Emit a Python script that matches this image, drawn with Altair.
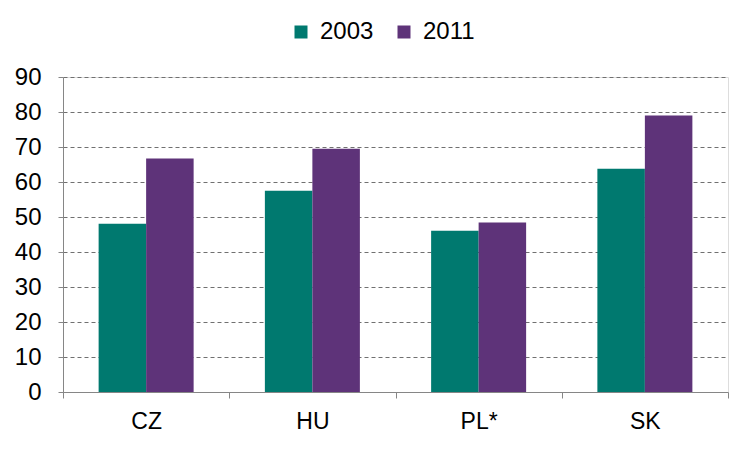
import altair as alt
import pandas as pd

countries = ["CZ", "HU", "PL*", "SK"]
years = ["2003", "2011"]
v2003 = [48.1, 57.5, 46.1, 63.8]
v2011 = [66.7, 69.5, 48.4, 79.0]
colors = ["#00796F", "#5E3379"]
y_ticks = [0, 10, 20, 30, 40, 50, 60, 70, 80, 90]

rows = []
for c, a, b in zip(countries, v2003, v2011):
    rows.append({"country": c, "year": years[0], "value": a})
    rows.append({"country": c, "year": years[1], "value": b})
df = pd.DataFrame(rows)

FONT = "Liberation Sans"
AX = "#868686"

chart = alt.Chart(df).mark_bar().encode(
    x=alt.X(
        "country:N",
        sort=countries,
        scale=alt.Scale(paddingInner=0, paddingOuter=0),
        axis=alt.Axis(
            title=None, labelAngle=0, tickBand="extent", grid=False,
            domainColor=AX, tickColor=AX, tickSize=6,
            labelFont=FONT, labelFontSize=23, labelColor="#000000", labelPadding=12,
        ),
    ),
    xOffset=alt.XOffset("year:N", sort=years,
                        scale=alt.Scale(paddingInner=0, paddingOuter=0.75)),
    y=alt.Y(
        "value:Q",
        scale=alt.Scale(domain=[0, 90], nice=False),
        axis=alt.Axis(
            title=None, values=y_ticks, grid=True, gridDash=[4, 3], gridColor="#707070",
            domainColor=AX, tickColor=AX, tickSize=5,
            labelFont=FONT, labelFontSize=24, labelColor="#000000", labelPadding=17,
        ),
    ),
    color=alt.Color(
        "year:N",
        scale=alt.Scale(domain=years, range=colors),
        legend=alt.Legend(
            title=None, orient="none", direction="horizontal",
            legendX=226, legendY=-57,
            symbolType="square", symbolSize=169, symbolStrokeWidth=0,
            labelFont=FONT, labelFontSize=24, labelColor="#000000",
            labelOffset=7, columnPadding=18,
        ),
    ),
).properties(
    width=665, height=315,
    autosize=alt.AutoSizeParams(type="none"),
    padding={"left": 63, "top": 77, "right": 22, "bottom": 58},
).configure_view(stroke=None).configure(background="#ffffff")

chart.save("out.html", embed_options={"renderer": "svg", "actions": False})
